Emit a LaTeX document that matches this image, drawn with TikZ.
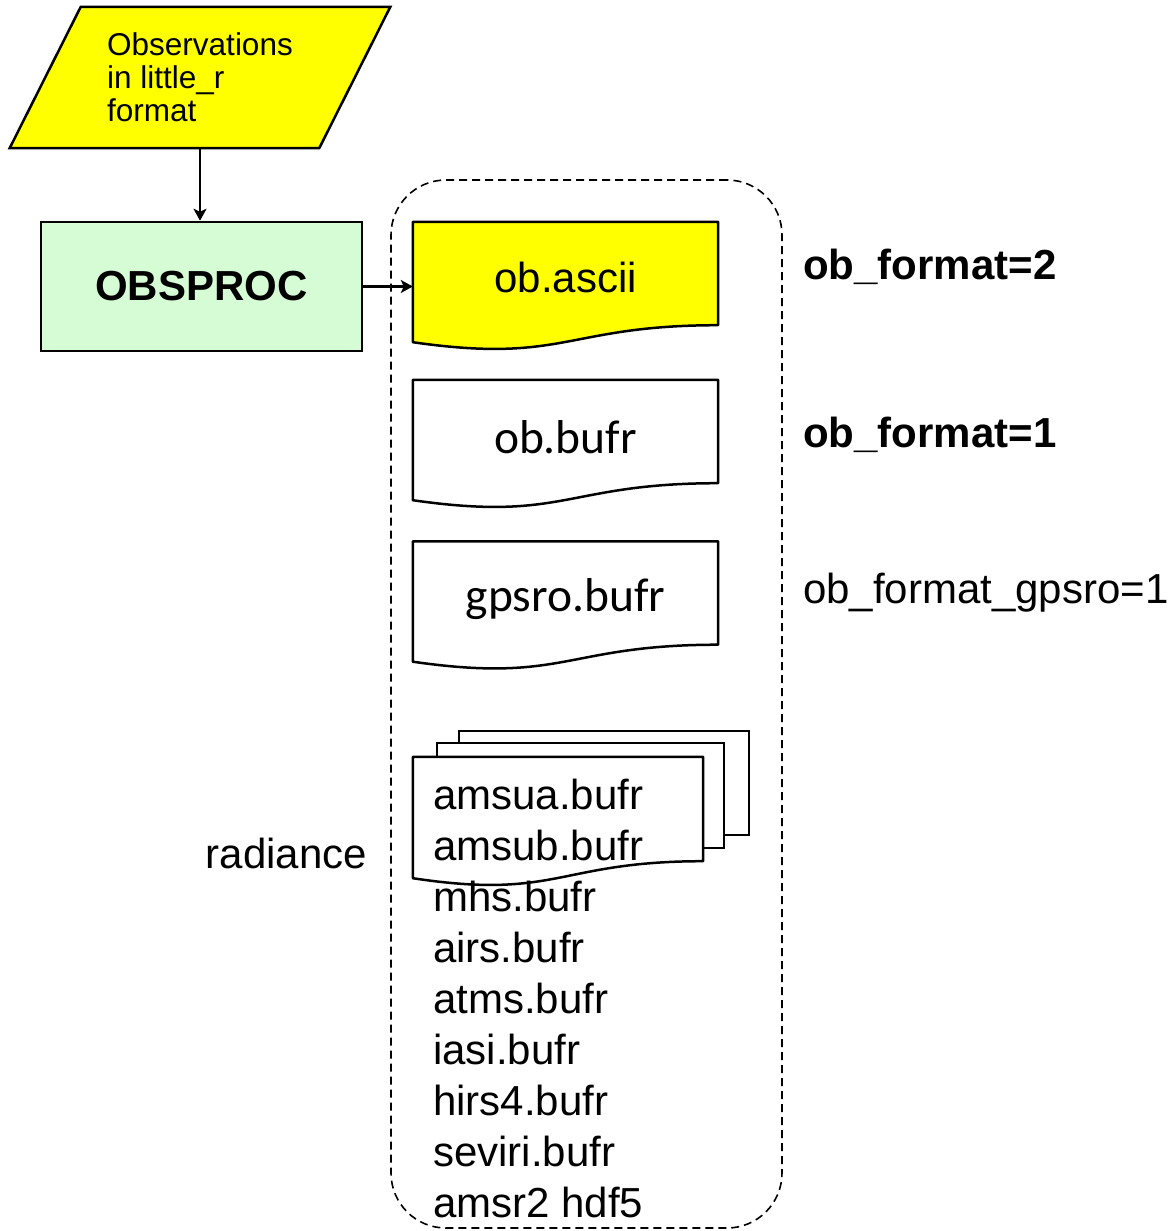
\documentclass[tikz,border=0pt]{standalone}
\usepackage{fontspec}
\setmainfont{Liberation Sans}
\newfontfamily\calfont{Carlito}
\usetikzlibrary{positioning, arrows.meta, calc, shapes.geometric}

\definecolor{obsyellow}{RGB}{255,255,0}
\definecolor{procgreen}{RGB}{213,252,213}

\tikzset{
    flowline/.style={line width=2.2pt, -{Stealth[length=12pt,width=13pt,inset=3pt]}},
    docline/.style={draw, line width=2.5pt, line join=round},
    docbox/.style={inner sep=0pt, minimum width=305pt, minimum height=103pt},
    bigtext/.style={font=\fontsize{42}{51}\selectfont},
}

\begin{document}
\begin{tikzpicture}[x=1pt,y=-1pt]

            \useasboundingbox (0,0) rectangle (1171,1231);

            % dashed group round the input files
            \node[draw, dashed, line width=1.6pt, dash pattern=on 8pt off 5pt,
                  rounded corners=55pt, minimum width=391pt, minimum height=1048pt]
                  (group) at (586.5,704) {};

            \node[trapezium, trapezium stretches=true, trapezium left angle=59.2,
                  trapezium right angle=120.8, minimum width=382pt, minimum height=141pt,
                  draw, line width=2.5pt, fill=obsyellow, align=left,
                  font=\fontsize{31.5}{33}\selectfont] (obs) at (200,77.5)
                  {Observations\\in little\_r\\format};

            \node[draw, line width=2.5pt, fill=procgreen, minimum width=321pt, minimum height=129pt,
                  font=\fontsize{42}{51}\selectfont\bfseries] (obsproc) at (201.5,286.5) {OBSPROC};

            \node[docbox] (ascii) at (565.5,273.5) {};
            \node[docbox] (bufr) at (565.5,431.5) {};
            \node[docbox] (gpsro) at (565.5,593) {};

            % stacked pages behind the radiance file
            \node[draw, line width=2.5pt, fill=white, minimum width=290pt, minimum height=104pt] (page3) at (604,783) {};
            \node[draw, line width=2.5pt, fill=white, minimum width=287pt, minimum height=105pt] (page2) at (580.5,795.5) {};
            \node[inner sep=0pt, minimum width=290pt, minimum height=104pt] (rad) at (558,809) {};

            % wavy document outlines
            \foreach \n/\col in {ascii/obsyellow, bufr/white, gpsro/white, rad/white} {
                \path[docline, fill=\col] (\n.south east)
                    .. controls (\n.south) and ($(\n.south)+(0,39)$) .. ($(\n.south west)+(0,17)$)
                    -- (\n.north west) -- (\n.north east) -- cycle;
            }

            \node[bigtext] (asciitext) at (565.5,277) {ob.ascii};
            \node[font=\calfont\fontsize{47.5}{55}\selectfont] (bufrtext) at (565.5,437) {ob.bufr};
            \node[font=\calfont\fontsize{47.5}{55}\selectfont] (gpsrotext) at (565.5,599) {gpsro.bufr};

            \node[bigtext, align=left, anchor=north west, inner sep=0pt] (radlist) at (433,779)
                {amsua.bufr\\amsub.bufr\\mhs.bufr\\airs.bufr\\atms.bufr\\iasi.bufr\\hirs4.bufr\\seviri.bufr\\amsr2 hdf5};

            \node[bigtext, anchor=east, inner sep=0pt] (radlabel) at (367,853) {radiance};

            \node[font=\fontsize{42}{51}\selectfont\bfseries, anchor=west, inner sep=0pt] (fmt2) at (803,267) {ob\_format=2};
            \node[font=\fontsize{42}{51}\selectfont\bfseries, anchor=west, inner sep=0pt] (fmt1) at (803,435) {ob\_format=1};
            \node[bigtext, anchor=west, inner sep=0pt] (fmtgps) at (803,593) {ob\_format\_gpsro=1};

            \path[flowline]
            (obs.south) edge (obs.south |- obsproc.north)
            (obsproc.east) edge (obsproc.east -| ascii.west)
            ;
        \end{tikzpicture}
\end{document}
